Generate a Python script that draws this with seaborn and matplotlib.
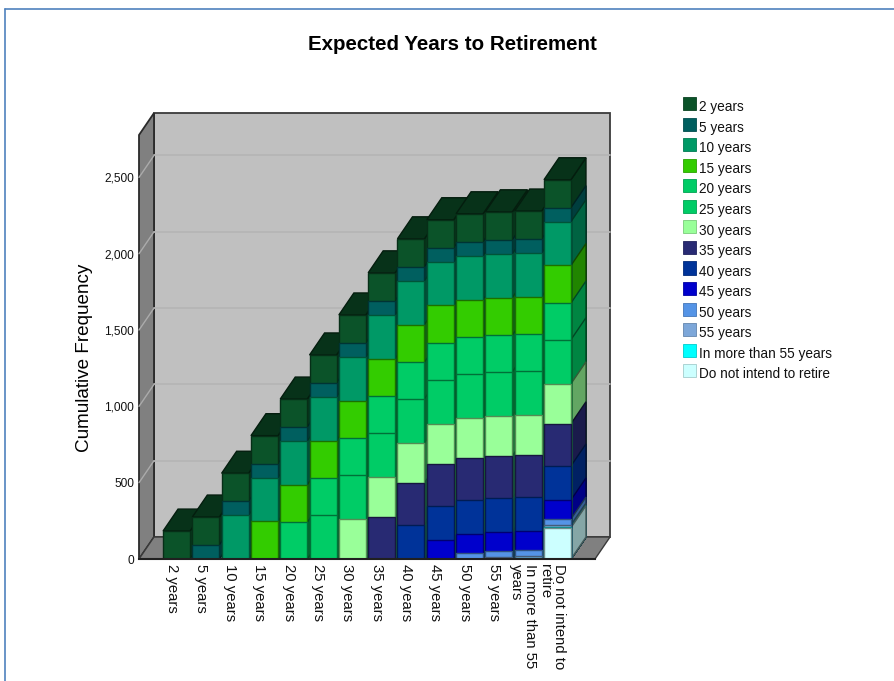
import numpy as np
import pandas as pd
import matplotlib
matplotlib.use('Agg')
import matplotlib.pyplot as plt
import seaborn as sns
from matplotlib.colors import to_rgb
from matplotlib.lines import Line2D
from matplotlib.patches import Patch, Polygon
from matplotlib.transforms import ScaledTranslation

# answers, in the order the chart stacks them (first one ends up on top)
categories = ['2 years', '5 years', '10 years', '15 years', '20 years', '25 years', '30 years',
              '35 years', '40 years', '45 years', '50 years', '55 years',
              'In more than 55 years', 'Do not intend to retire']
tick_labels = ['2 years', '5 years', '10 years', '15 years', '20 years', '25 years', '30 years',
               '35 years', '40 years', '45 years', '50 years', '55 years',
               'In more than 55\nyears', 'Do not intend to\nretire']
frequency = [183, 92, 287, 246, 240, 289, 262, 276, 223, 125, 39, 13, 5, 205]
colors = ['#0B5329', '#005F5F', '#009966', '#33CC00', '#00CC66', '#00CC66', '#99FF99',
          '#282A73', '#003399', '#0000CC', '#5594E6', '#7DA7D9', '#00FFFF', '#CCFFFF']
y_ticks = [0, 500, 1000, 1500, 2000, 2500]

sns.set_theme(style='white')
plt.rcParams['font.family'] = ['Liberation Sans', 'DejaVu Sans']

W, H = 894, 681
fig = plt.figure(figsize=(W / 100, H / 100), dpi=100)
ax = fig.add_axes([139 / W, 1 - 559 / H, 456 / W, 424 / H])


def shade(color, factor):
    return tuple(c * factor for c in to_rgb(color))


# depth of the fake 3D box, in data units
depth_x = 0.512
depth_y = 144
x_lo, x_hi = -1.28, 14.28
y_hi = 2778

freq = np.array(frequency)
for k, name in enumerate(categories):
    # each column holds the cumulative count, so draw tallest first and paint over
    rows = [(categories[j], freq[k:j + 1].sum()) for j in range(k, len(categories))]
    df = pd.DataFrame(rows, columns=['answer', 'height'])
    sns.barplot(data=df, x='answer', y='height', order=categories, color=colors[k], saturation=1,
                width=0.92, edgecolor=shade(colors[k], 0.55), linewidth=1, ax=ax)
    for rect in ax.containers[-1]:
        h = rect.get_height()
        if np.isnan(h) or h == 0:
            continue
        x0 = rect.get_x()
        x1 = x0 + rect.get_width()
        col = int(round(x0 + rect.get_width() / 2))
        rect.set_zorder(11 + 2 * col)
        side = [(x1, 0), (x1 + depth_x, depth_y), (x1 + depth_x, h + depth_y), (x1, h)]
        ax.add_patch(Polygon(side, closed=True, facecolor=shade(colors[k], 0.65),
                             edgecolor=shade(colors[k], 0.35), linewidth=1,
                             zorder=10 + 2 * col, clip_on=False))
        if k == 0:
            top = [(x0, h), (x0 + depth_x, h + depth_y), (x1 + depth_x, h + depth_y), (x1, h)]
            ax.add_patch(Polygon(top, closed=True, facecolor=shade(colors[k], 0.6),
                                 edgecolor=shade(colors[k], 0.35), linewidth=1,
                                 zorder=10 + 2 * col, clip_on=False))

ax.set_xlim(x_lo, x_hi)
ax.set_ylim(0, y_hi)
ax.patch.set_visible(False)
sns.despine(ax=ax, left=True, top=True, right=True, bottom=False)
ax.spines['bottom'].set_color('#202020')
ax.spines['bottom'].set_linewidth(1.5)
ax.spines['bottom'].set_zorder(60)

# back wall, side wall, floor
back = [(x_lo + depth_x, depth_y), (x_hi + depth_x, depth_y),
        (x_hi + depth_x, y_hi + depth_y), (x_lo + depth_x, y_hi + depth_y)]
ax.add_patch(Polygon(back, closed=True, facecolor='#C0C0C0', edgecolor='#3A3A3A', linewidth=1.3,
                     zorder=1, clip_on=False))
left = [(x_lo, 0), (x_lo + depth_x, depth_y), (x_lo + depth_x, y_hi + depth_y), (x_lo, y_hi)]
ax.add_patch(Polygon(left, closed=True, facecolor='#808080', edgecolor='#2A2A2A', linewidth=1.3,
                     zorder=2, clip_on=False))
floor = [(x_lo, 0), (x_hi, 0), (x_hi + depth_x, depth_y), (x_lo + depth_x, depth_y)]
ax.add_patch(Polygon(floor, closed=True, facecolor='#808080', edgecolor='#3A3A3A', linewidth=1,
                     zorder=2, clip_on=False))
for v in y_ticks[1:]:
    ax.plot([x_lo + depth_x, x_hi + depth_x], [v + depth_y, v + depth_y], color='#B6B6B6', lw=1.3,
            zorder=3, clip_on=False)
    ax.plot([x_lo, x_lo + depth_x], [v, v + depth_y], color='#ABABAB', lw=1, zorder=3, clip_on=False)

ax.set_xticks(range(len(tick_labels)))
ax.set_xticklabels(tick_labels, rotation=270, fontsize=10.7, color='#111111', linespacing=1.0,
                   multialignment='left')
ax.set_yticks(y_ticks)
ax.set_yticklabels([f'{v:,}' for v in y_ticks], fontsize=8.6, color='#111111')
ax.tick_params(axis='x', length=0, pad=3.5)
ax.tick_params(axis='y', length=0, pad=3.5)
# tick_params resets the label transforms, so this has to come after it
shift = ScaledTranslation(-5 / 100, 0, fig.dpi_scale_trans)
for lab in ax.get_xticklabels():
    lab.set_transform(lab.get_transform() + shift)
ax.set_xlabel('')
ax.set_ylabel('Cumulative Frequency', fontsize=13.6, color='black')
ax.yaxis.set_label_coords((93 - 139) / 456, (559 - 358) / 424)

fig.text(452 / W, 1 - 44 / H, 'Expected Years to Retirement', fontsize=14.8, fontweight='bold',
         ha='center', va='center', color='black')

handles = [Patch(facecolor=c, edgecolor=shade(c, 0.8), linewidth=0.6, label=n)
           for c, n in zip(colors, categories)]
leg = fig.legend(handles=handles, loc='upper left', bbox_to_anchor=(683 / W, 1 - 97 / H), frameon=False,
                 fontsize=9.8, handlelength=0.95, handleheight=1.1, labelspacing=0.47,
                 handletextpad=0.25, borderpad=0, borderaxespad=0, labelcolor='#111111')
for t in leg.get_texts():
    t.set_position((0, -3))

# frame of the output window
fig.add_artist(Line2D([5 / W, 5 / W], [0, 1 - 9 / H], color='#4F81BD', lw=1.2))
fig.add_artist(Line2D([5 / W, 1], [1 - 9 / H, 1 - 9 / H], color='#4F81BD', lw=1.2))

fig.savefig('out.png', dpi=100, facecolor='white')
